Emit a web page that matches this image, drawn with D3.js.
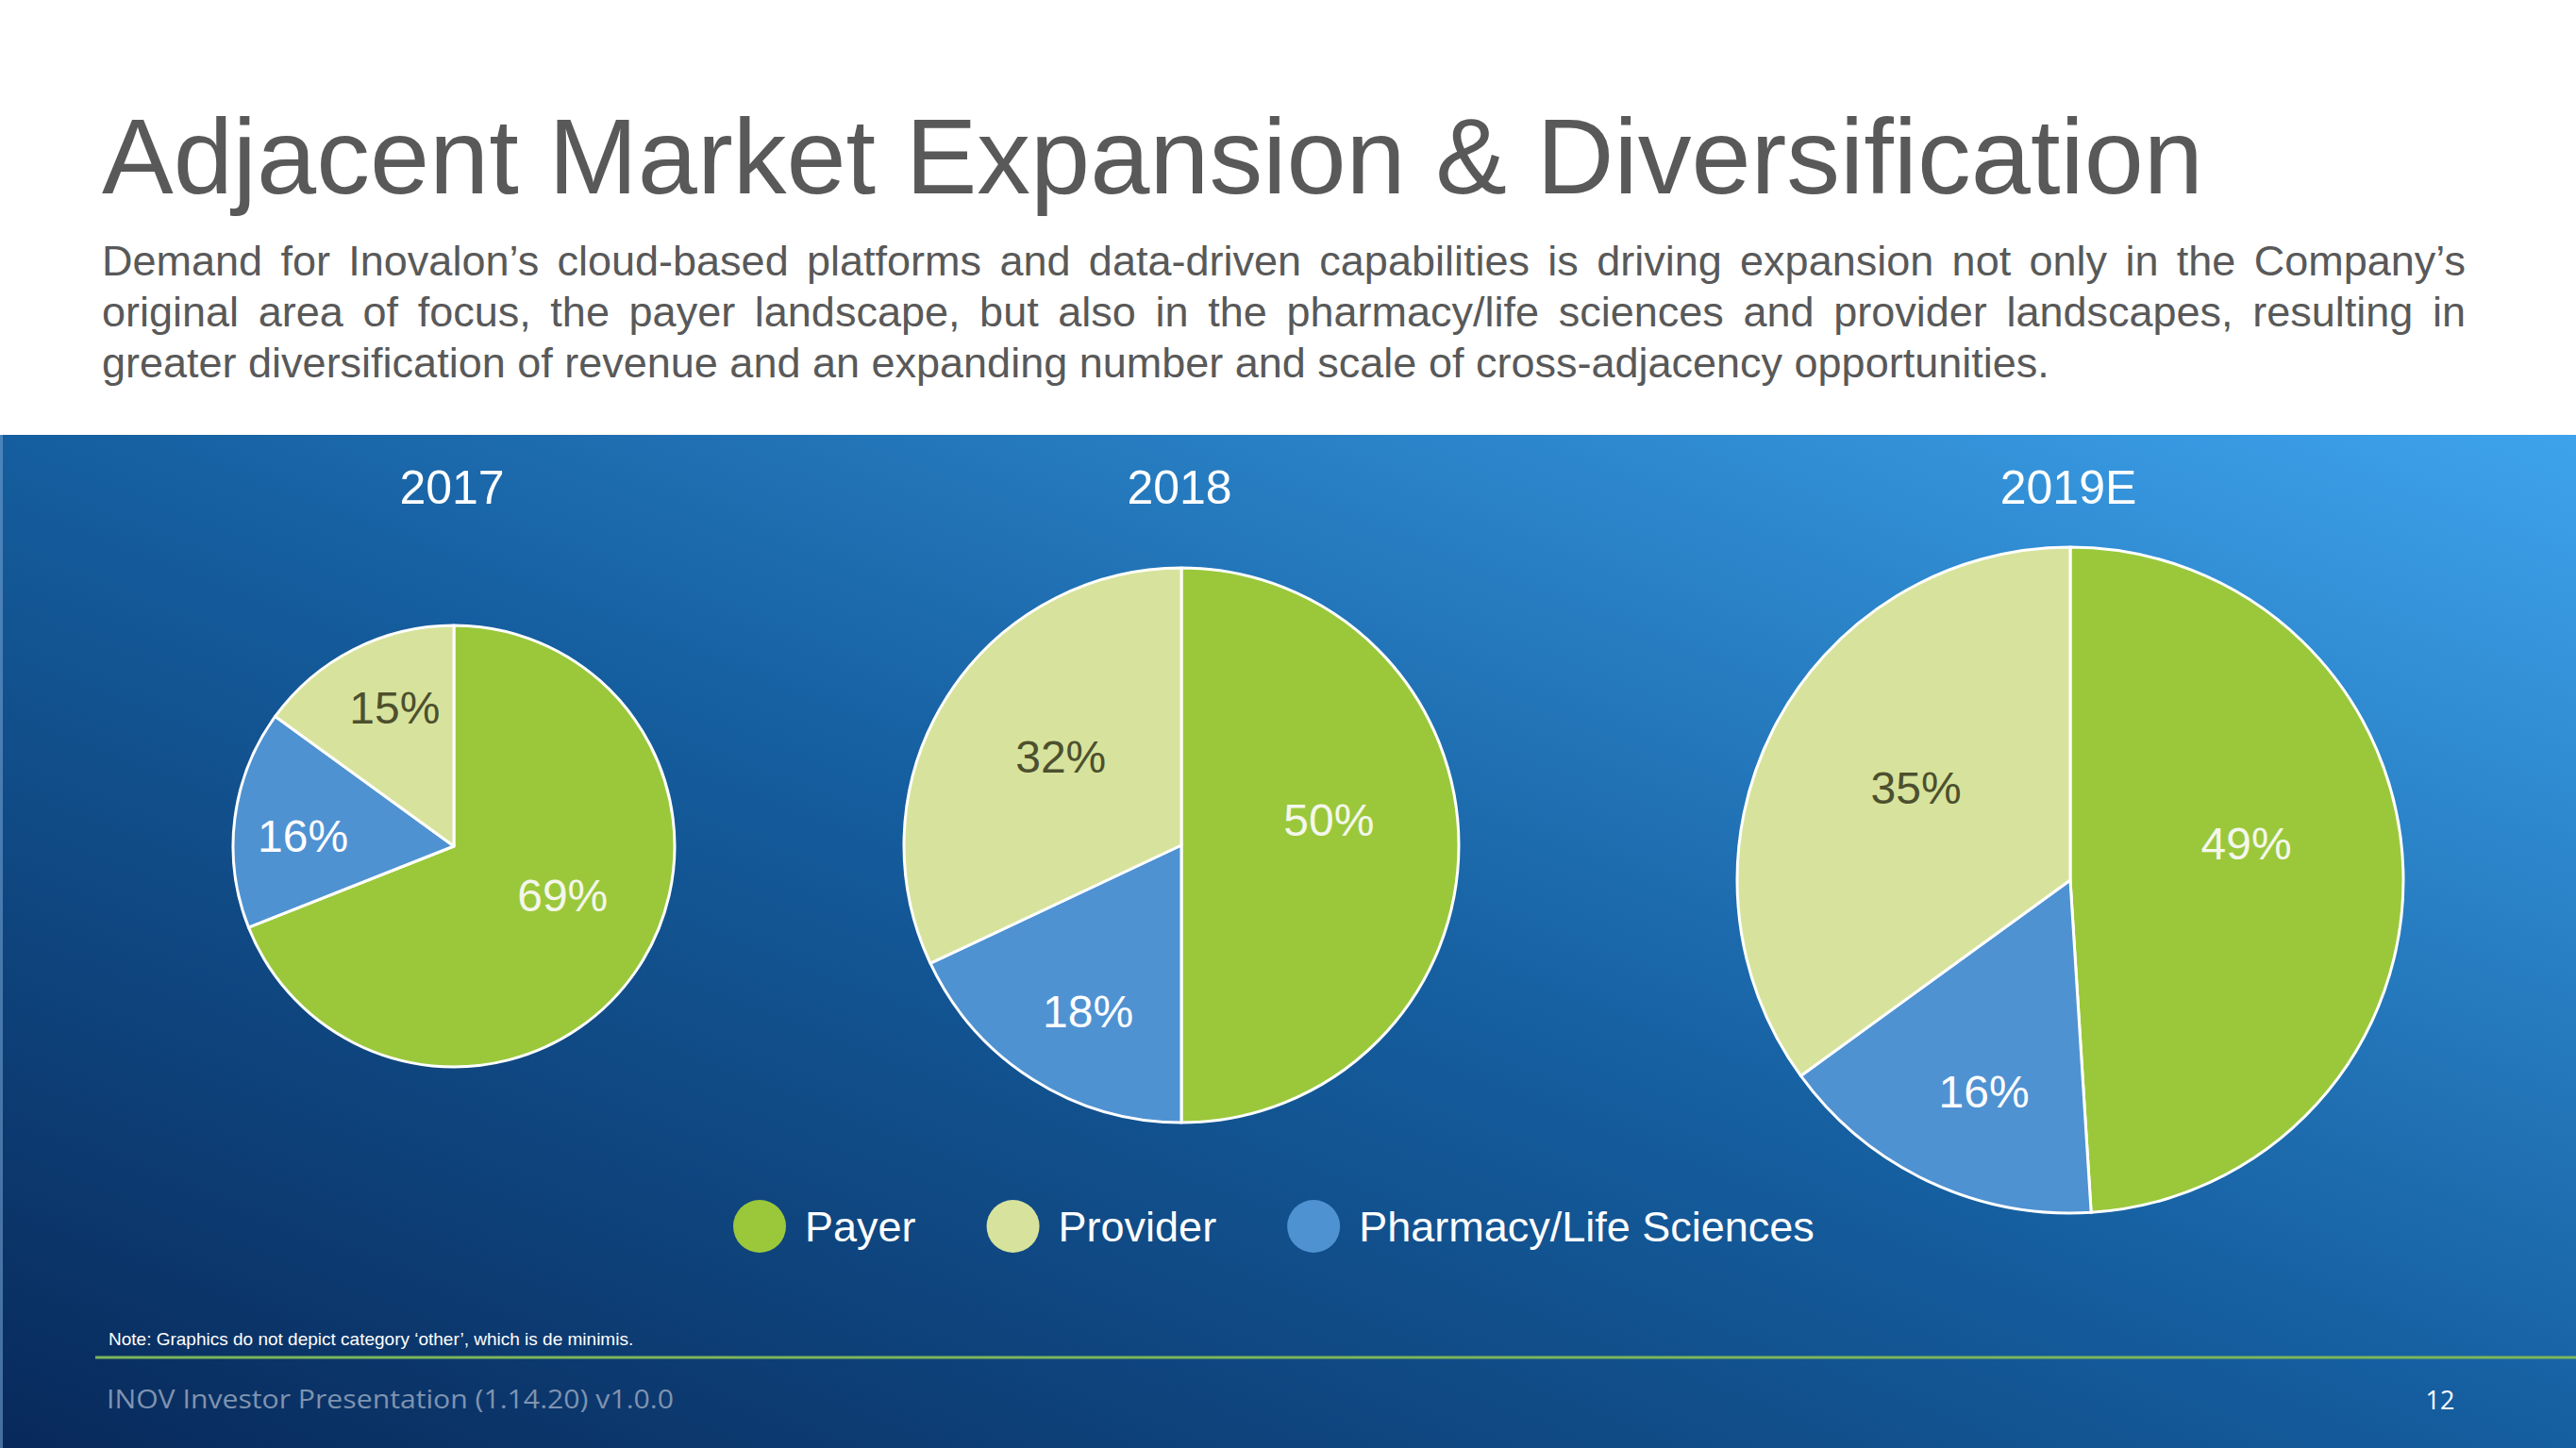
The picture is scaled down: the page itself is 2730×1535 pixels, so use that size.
<!DOCTYPE html>
<html>
<head>
<meta charset="utf-8">
<script src="https://cdn.jsdelivr.net/npm/d3@7"></script>
<style>
  html, body { margin: 0; padding: 0; background: #ffffff; }
  svg { display: block; }
</style>
</head>
<body>
<svg id="chart" width="2730" height="1535"></svg>
<script>
// ---------- DATA ----------
const years = ["2017", "2018", "2019E"];
const categories = ["Payer", "Pharmacy/Life Sciences", "Provider"];
const payerShare    = [69, 50, 49];
const pharmacyShare = [16, 18, 16];
const providerShare = [15, 32, 35];
const legendOrder = ["Payer", "Provider", "Pharmacy/Life Sciences"];

const titleText = "Adjacent Market Expansion & Diversification";
const subtitleLines = [
  "Demand for Inovalon\u2019s cloud-based platforms and data-driven capabilities is driving expansion not only in the Company\u2019s",
  "original area of focus, the payer landscape, but also in the pharmacy/life sciences and provider landscapes, resulting in",
  "greater diversification of revenue and an expanding number and scale of cross-adjacency opportunities."
];
const noteText = "Note: Graphics do not depict category \u2018other\u2019, which is de minimis.";
const footerText = "INOV Investor Presentation (1.14.20) v1.0.0";
const pageNumber = "12";

// ---------- STYLE / LAYOUT ----------
const W = 2730, H = 1535;
const panelTop = 461;
const colors = {
  "Payer": "#9bc83b",
  "Provider": "#d7e39c",
  "Pharmacy/Life Sciences": "#4f92d2"
};
const labelColors = {
  "Payer": "#f4f7ec",
  "Provider": "#4d502e",
  "Pharmacy/Life Sciences": "#ffffff"
};
// small angular nudge of the percentage labels (degrees), per category
const labelNudge = {
  "Payer": -10,
  "Provider": 4,
  "Pharmacy/Life Sciences": -3
};
const pieLayout = [
  { cx: 481,  cy: 897, r: 234 },
  { cx: 1252, cy: 896, r: 294 },
  { cx: 2194, cy: 933, r: 353 }
];
const FONT = "'Liberation Sans', Arial, Helvetica, sans-serif";

const svg = d3.select("#chart");
const defs = svg.append("defs");

const grad = defs.append("linearGradient")
  .attr("id", "bg").attr("x1", 0).attr("y1", 1).attr("x2", 1).attr("y2", 0);
grad.append("stop").attr("offset", 0).attr("stop-color", "#08295a");
grad.append("stop").attr("offset", 0.5).attr("stop-color", "#155e9f");
grad.append("stop").attr("offset", 1).attr("stop-color", "#3ea3ec");

svg.append("rect").attr("width", W).attr("height", H).attr("fill", "#ffffff");
svg.append("rect").attr("x", 0).attr("y", panelTop).attr("width", W).attr("height", H - panelTop)
  .attr("fill", "url(#bg)");
svg.append("rect").attr("x", 0).attr("y", panelTop).attr("width", 3).attr("height", H - panelTop)
  .attr("fill", "#6f9fcf").attr("opacity", 0.6);

// ---------- TITLE ----------
svg.append("text")
  .attr("x", 108).attr("y", 205)
  .attr("font-family", FONT).attr("font-size", 113.5)
  .attr("fill", "#595959")
  .text(titleText);

// ---------- SUBTITLE (justified) ----------
const subX = 108, subRight = 2613, subW = subRight - subX;
const subBase = [292, 346, 400];
subtitleLines.forEach((line, i) => {
  const t = svg.append("text")
    .attr("x", subX).attr("y", subBase[i])
    .attr("font-family", FONT).attr("font-size", 45)
    .attr("fill", "#595959")
    .text(line);
  if (i < subtitleLines.length - 1) {
    const len = t.node().getComputedTextLength();
    const spaces = (line.match(/ /g) || []).length;
    t.attr("word-spacing", (subW - len) / spaces);
  }
});

// ---------- PIES ----------
const pie = d3.pie().sort(null).value(d => d.value);

years.forEach((yr, i) => {
  const L = pieLayout[i];
  const data = [
    { cat: categories[0], value: payerShare[i] },
    { cat: categories[1], value: pharmacyShare[i] },
    { cat: categories[2], value: providerShare[i] }
  ];
  const arcs = pie(data);
  const arc = d3.arc().innerRadius(0).outerRadius(L.r);
  const g = svg.append("g").attr("transform", `translate(${L.cx},${L.cy})`);

  g.selectAll("path.slice").data(arcs).enter().append("path")
    .attr("class", "slice")
    .attr("d", arc)
    .attr("fill", d => colors[d.data.cat])
    .attr("stroke", "#ffffff")
    .attr("stroke-width", 3)
    .attr("stroke-linejoin", "round");

  g.selectAll("text.lbl").data(arcs).enter().append("text")
    .attr("class", "lbl")
    .attr("transform", d => {
      const f = d.data.value >= 30 ? 0.54 : 0.685;
      const a = (d.startAngle + d.endAngle) / 2 + labelNudge[d.data.cat] * Math.PI / 180;
      const rr = L.r * f;
      return `translate(${rr * Math.sin(a)},${-rr * Math.cos(a)})`;
    })
    .attr("text-anchor", "middle")
    .attr("dy", "0.36em")
    .attr("font-family", FONT).attr("font-size", 48)
    .attr("fill", d => labelColors[d.data.cat])
    .text(d => d.data.value + "%");

  svg.append("text")
    .attr("x", L.cx - 2).attr("y", 534)
    .attr("text-anchor", "middle")
    .attr("font-family", FONT).attr("font-size", 50)
    .attr("fill", "#ffffff")
    .text(yr);
});

// ---------- LEGEND ----------
let cursor = 777;
const legendY = 1300;
legendOrder.forEach(cat => {
  const cx = cursor + 28;
  svg.append("circle").attr("cx", cx).attr("cy", legendY).attr("r", 28)
    .attr("fill", colors[cat]);
  const t = svg.append("text")
    .attr("x", cx + 48).attr("y", legendY + 16)
    .attr("font-family", FONT).attr("font-size", 45)
    .attr("fill", "#ffffff")
    .text(cat);
  cursor = cx + 48 + t.node().getComputedTextLength() + 75;
});

// ---------- NOTE + FOOTER ----------
svg.append("text")
  .attr("x", 115).attr("y", 1426)
  .attr("font-family", FONT).attr("font-size", 19)
  .attr("fill", "#ffffff")
  .text(noteText);

svg.append("line")
  .attr("x1", 101).attr("x2", W).attr("y1", 1439).attr("y2", 1439)
  .attr("stroke", "#7cb65a").attr("stroke-width", 3);

svg.append("text")
  .attr("x", 113).attr("y", 1493)
  .attr("font-family", "'Open Sans', sans-serif").attr("font-size", 28)
  .attr("textLength", 601).attr("lengthAdjust", "spacingAndGlyphs")
  .attr("fill", "#7f93b0")
  .text(footerText);

svg.append("text")
  .attr("x", 2586).attr("y", 1494)
  .attr("text-anchor", "middle")
  .attr("font-family", "'Open Sans', sans-serif").attr("font-size", 27)
  .attr("fill", "#ffffff")
  .text(pageNumber);
</script>
</body>
</html>
